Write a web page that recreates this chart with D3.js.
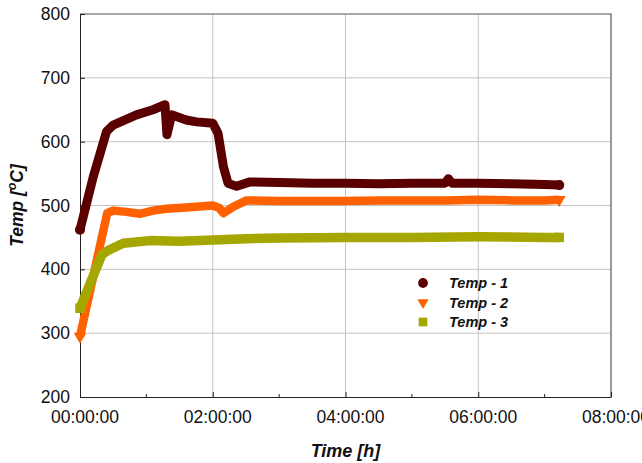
<!DOCTYPE html>
<html>
<head>
<meta charset="utf-8">
<script src="https://cdn.jsdelivr.net/npm/d3@7"></script>
<style>
  body { margin: 0; background: #fff; }
  text { font-family: Arial, "Liberation Sans", sans-serif; }
</style>
</head>
<body>
<div id="chart"></div>
<script>
// values, time in hours
const time1 = [0, 0.2, 0.4, 0.5, 0.85, 1.1, 1.28, 1.31, 1.38, 1.6, 1.76, 2.0, 2.08, 2.16, 2.23, 2.36, 2.56, 3.0, 3.5, 4.0, 4.5, 5.0, 5.5, 5.55, 5.6, 6.0, 6.5, 7.0, 7.22];
const temp1 = [462, 545, 616, 626, 642, 650, 658, 611, 642, 634, 631, 629, 613, 561, 535, 530, 537, 536, 535, 535, 534, 535, 535, 542, 535, 535, 534, 533, 532];

const time2 = [0, 0.41, 0.5, 0.7, 0.9, 1.1, 1.3, 1.6, 2.0, 2.1, 2.16, 2.31, 2.51, 3.0, 3.6, 4.0, 4.5, 5.0, 5.5, 6.0, 6.5, 7.0, 7.22];
const temp2 = [295, 488, 492, 490, 487, 492, 495, 497, 500, 496, 488, 498, 508, 507, 507, 507, 508, 508, 508, 509, 508, 508, 509];

const time3 = [0, 0.33, 0.43, 0.65, 1.05, 1.5, 2.0, 2.5, 3.0, 4.0, 5.0, 6.0, 7.0, 7.22];
const temp3 = [339, 423, 430, 441, 445, 444, 446, 448, 449, 450, 450, 451, 450, 450];

const seriesNames = ['Temp - 1', 'Temp - 2', 'Temp - 3'];
const seriesColors = ['#5a0000', '#ff6000', '#a6a600'];
const xTicks = [0, 2, 4, 6, 8];
const xMinorTicks = [1, 3, 5, 7];
const yTicks = [200, 300, 400, 500, 600, 700, 800];

const width = 642, height = 463;
const margin = { top: 14, right: 31, bottom: 66, left: 80 };

const svg = d3.select('#chart').append('svg')
  .attr('width', width)
  .attr('height', height);

const x = d3.scaleLinear().domain([0, 8]).range([margin.left, width - margin.right]);
const y = d3.scaleLinear().domain([200, 800]).range([height - margin.bottom, margin.top]);

const pad2 = n => String(n).padStart(2, '0');

// grid
svg.append('g').selectAll('line.gy')
  .data(yTicks.slice(1, -1))
  .join('line')
  .attr('x1', x(0)).attr('x2', x(8))
  .attr('y1', d => y(d)).attr('y2', d => y(d))
  .attr('stroke', '#c4c4c4').attr('stroke-width', 1);

svg.append('g').selectAll('line.gx')
  .data(xTicks.slice(1, -1))
  .join('line')
  .attr('x1', d => x(d)).attr('x2', d => x(d))
  .attr('y1', y(200)).attr('y2', y(800))
  .attr('stroke', '#c4c4c4').attr('stroke-width', 1);

// frame top / right
svg.append('path')
  .attr('d', `M${x(0)},${y(800)}H${x(8)}V${y(200)}`)
  .attr('fill', 'none')
  .attr('stroke', '#555')
  .attr('stroke-width', 1.2);

// axes
svg.append('g')
  .attr('transform', `translate(0,${y(200)})`)
  .call(d3.axisBottom(x).tickValues(xTicks).tickSizeInner(-5).tickSizeOuter(0)
    .tickFormat(d => pad2(d) + ':00:00'))
  .call(g => g.select('.domain').attr('stroke', '#222'))
  .call(g => g.selectAll('.tick line').attr('stroke', '#222'))
  .call(g => g.selectAll('.tick text')
    .attr('dx', 4.5).attr('dy', 0).attr('y', 26)
    .attr('font-size', 17.5).attr('fill', '#111'));

svg.append('g')
  .attr('transform', `translate(0,${y(200)})`)
  .selectAll('line')
  .data(xMinorTicks)
  .join('line')
  .attr('x1', d => x(d)).attr('x2', d => x(d))
  .attr('y1', 0).attr('y2', -3)
  .attr('stroke', '#222');

svg.append('g')
  .attr('transform', `translate(${x(0)},0)`)
  .call(d3.axisLeft(y).tickValues(yTicks).tickSizeInner(-5).tickSizeOuter(0).tickPadding(10))
  .call(g => g.select('.domain').attr('stroke', '#222'))
  .call(g => g.selectAll('.tick line').attr('stroke', '#222'))
  .call(g => g.selectAll('.tick text').attr('font-size', 17.5).attr('fill', '#111'));

// series
const series = [
  { time: time1, temp: temp1, symbol: d3.symbolCircle, cap: 'round', size: 80, w: 9 },
  { time: time2, temp: temp2, symbol: d3.symbolTriangle, cap: 'butt', size: 70, w: 8.5, rotate: 180 },
  { time: time3, temp: temp3, symbol: d3.symbolSquare, cap: 'butt', size: 90, w: 9.5 }
];

const line = d3.line().x(d => x(d[0])).y(d => y(d[1]));

series.forEach((s, i) => {
  const pts = s.time.map((t, k) => [t, s.temp[k]]);
  svg.append('path')
    .datum(pts)
    .attr('fill', 'none')
    .attr('stroke', seriesColors[i])
    .attr('stroke-width', s.w)
    .attr('stroke-linejoin', 'round')
    .attr('stroke-linecap', s.cap)
    .attr('d', line);
  svg.append('g').selectAll('path')
    .data([pts[0], pts[pts.length - 1]])
    .join('path')
    .attr('transform', d => `translate(${x(d[0])},${y(d[1])}) rotate(${s.rotate || 0})`)
    .attr('d', d3.symbol(s.symbol, s.size)())
    .attr('fill', seriesColors[i]);
});

// legend
const legend = svg.append('g');
const legendRows = [283, 302.5, 322];
seriesNames.forEach((name, i) => {
  const s = series[i];
  legend.append('path')
    .attr('transform', `translate(423,${legendRows[i]}) rotate(${s.rotate || 0})`)
    .attr('d', d3.symbol(s.symbol, i === 1 ? 55 : 75)())
    .attr('fill', seriesColors[i]);
  legend.append('text')
    .attr('x', 449)
    .attr('y', legendRows[i] + 5)
    .attr('font-size', 14.5)
    .attr('font-weight', 'bold')
    .attr('font-style', 'italic')
    .attr('fill', '#111')
    .text(name);
});

// axis titles
svg.append('text')
  .attr('x', (x(0) + x(8)) / 2)
  .attr('y', 456.5)
  .attr('text-anchor', 'middle')
  .attr('font-size', 18)
  .attr('font-weight', 'bold')
  .attr('font-style', 'italic')
  .attr('fill', '#111')
  .text('Time [h]');

const yTitle = svg.append('text')
  .attr('transform', `translate(23,${(y(200) + y(800)) / 2}) rotate(-90)`)
  .attr('text-anchor', 'middle')
  .attr('font-size', 17.5)
  .attr('font-weight', 'bold')
  .attr('font-style', 'italic')
  .attr('fill', '#111');
yTitle.append('tspan').text('Temp [');
yTitle.append('tspan').attr('font-size', 12).attr('dy', -7).text('o');
yTitle.append('tspan').attr('dy', 7).text('C]');
</script>
</body>
</html>
